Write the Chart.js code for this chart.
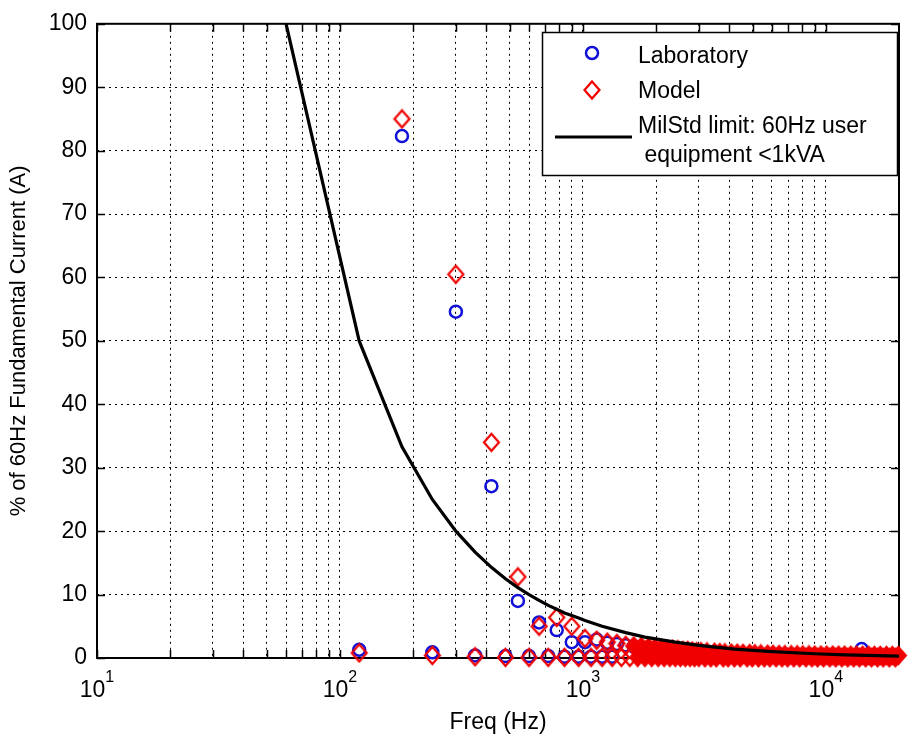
<!DOCTYPE html>
<html>
<head>
<meta charset="utf-8">
<title>Harmonic currents vs MilStd limit</title>
<script src="https://cdn.jsdelivr.net/npm/chart.js@4.4.0/dist/chart.umd.min.js"></script>
<style>
  html, body { margin: 0; padding: 0; background: #fff; }
  #chart { display: block; }
</style>
</head>
<body>
<canvas id="chart" width="908" height="739"></canvas>
<script>
// Values: harmonic frequency (Hz) and % of 60Hz fundamental
var labFreq = [120, 180, 240, 300, 360, 420, 480, 540, 600, 660, 720, 780, 840, 900, 960,
               1020, 1080, 1140, 1200, 1260, 1320, 1380, 1500, 1620, 1740, 1860, 1980, 14040];
var labPct  = [1.3, 82.3, 0.9, 54.6, 0.4, 27.1, 0.3, 9.0, 0.3, 5.6, 0.3, 4.4, 0.2, 2.5, 0.2,
               2.5, 0.2, 2.9, 0.2, 2.4, 0.2, 2.2, 2.0, 1.8, 1.6, 1.5, 1.3, 1.4];

var modelFreq = [120, 180, 240, 300, 360, 420, 480, 540, 600, 660, 720, 780, 840, 900, 960,
                 1020, 1080, 1140, 1200, 1260, 1320, 1380, 1440,
                 1500, 1560, 1620, 1680, 1740, 1800, 1860, 1920, 1980, 2040, 2100, 2160, 2220,
                 2280, 2340, 2400, 2460, 2520, 2580, 2640, 2700, 2760, 2820, 2880, 2940, 3000,
                 3060, 3180, 3240, 3360, 3480, 3540, 3660, 3780, 3840, 3960, 4080, 4200, 4320,
                 4440, 4560, 4740, 4860, 4980, 5100, 5280, 5400, 5580, 5760, 5880, 6060, 6240,
                 6420, 6600, 6780, 6960, 7200, 7380, 7620, 7800, 8040, 8280, 8520, 8760, 9000,
                 9240, 9540, 9780, 10080, 10380, 10680, 10980, 11280, 11640, 11940, 12300, 12660,
                 13020, 13380, 13740, 14160, 14580, 15000, 15420, 15840, 16320, 16740, 17220,
                 17760, 18240, 18780, 19320, 19860];
var modelPct  = [0.8, 85.0, 0.4, 60.5, 0.2, 34.0, 0.1, 12.8, 0.1, 5.0, 0.1, 6.4, 0.1, 5.0, 0.1,
                 3.1, 0.1, 2.8, 0.1, 2.5, 0.1, 2.3, 0.1,
                 2.0, 0.1, 1.9, 0.1, 1.8, 0.1, 1.7, 0.1, 1.6, 0.1, 1.5, 0.1, 1.4,
                 0.1, 1.4, 0.1, 1.3, 0.1, 1.2, 0.1, 1.2, 0.1, 1.1, 0.1, 1.0, 0.1,
                 1.0, 0.05, 0.95, 0.05, 0.9, 0.05, 0.85, 0.05, 0.8, 0.05, 0.78, 0.05, 0.75,
                 0.05, 0.72, 0.05, 0.7, 0.05, 0.67, 0.05, 0.64, 0.05, 0.6, 0.05, 0.58, 0.05,
                 0.55, 0.05, 0.52, 0.05, 0.5, 0.05, 0.5, 0.05, 0.48, 0.05, 0.48, 0.05, 0.46,
                 0.05, 0.46, 0.05, 0.45, 0.05, 0.45, 0.05, 0.44, 0.05, 0.44, 0.05, 0.43,
                 0.05, 0.43, 0.05, 0.42, 0.05, 0.42, 0.05, 0.41, 0.05, 0.41, 0.05,
                 0.4, 0.05, 0.4, 0.05, 0.4];

var limitFreq = [60, 120, 180, 240, 300, 360, 420, 480, 540, 600, 660, 720, 780, 840, 900, 960,
                 1020, 1200, 1500, 1800, 2400, 3000, 4200, 6000, 9000, 12000, 20000];
var limitPct  = [100, 50, 33.3, 25, 20, 16.7, 14.3, 12.5, 11.1, 10, 9.1, 8.3, 7.7, 7.1, 6.7, 6.3,
                 5.9, 5.0, 4.0, 3.3, 2.5, 2.0, 1.4, 1.0, 0.67, 0.5, 0.3];

var xGridTicks = [10, 20, 30, 40, 50, 60, 70, 80, 90,
                  100, 200, 300, 400, 500, 600, 700, 800, 900,
                  1000, 2000, 3000, 4000, 5000, 6000, 7000, 8000, 9000, 10000];
var xLabelTicks = [10, 100, 1000, 10000];
var xLabelExp = ['1', '2', '3', '4'];
var yTicks = [0, 10, 20, 30, 40, 50, 60, 70, 80, 90, 100];

var FONT = '"Liberation Sans", Arial, Helvetica, sans-serif';
var BLUE = '#1010d8';
var RED = '#f00000';
// above this frequency the model markers overlap into a solid band
var SOLID_FROM_HZ = 1620;

function toPoints(xs, ys) {
    return xs.map(function(x, i) { return {x: x, y: ys[i]}; });
}

// taller-than-wide diamond like the MATLAB 'd' marker
function diamondPath(ctx, cx, cy, hw, hh) {
    ctx.beginPath();
    ctx.moveTo(cx, cy - hh);
    ctx.lineTo(cx + hw, cy);
    ctx.lineTo(cx, cy + hh);
    ctx.lineTo(cx - hw, cy);
    ctx.closePath();
}
function makeDiamond(filled) {
    var c = document.createElement('canvas');
    c.width = 19;
    c.height = 21;
    var g = c.getContext('2d');
    g.strokeStyle = RED;
    g.fillStyle = RED;
    g.lineWidth = 2.2;
    diamondPath(g, 9.5, 10.5, 7.5, 8.5);
    if (filled) g.fill();
    g.stroke();
    return c;
}
var diamond = makeDiamond(false);
var diamondSolid = makeDiamond(true);

var frameAndLegend = {
    id: 'frameAndLegend',
    beforeDatasetsDraw: function(chart) {
        var ctx = chart.ctx, a = chart.chartArea;
        var xs = chart.scales.x, ys = chart.scales.y;
        ctx.save();
        ctx.strokeStyle = '#000';
        ctx.lineWidth = 1.5;
        ctx.beginPath();
        xGridTicks.forEach(function(v) {
            var px = Math.round(xs.getPixelForValue(v)) + 0.5;
            ctx.moveTo(px, a.bottom); ctx.lineTo(px, a.bottom - 8);
            ctx.moveTo(px, a.top); ctx.lineTo(px, a.top + 8);
        });
        yTicks.forEach(function(v) {
            var py = Math.round(ys.getPixelForValue(v)) + 0.5;
            ctx.moveTo(a.left, py); ctx.lineTo(a.left + 8, py);
            ctx.moveTo(a.right, py); ctx.lineTo(a.right - 8, py);
        });
        ctx.stroke();
        ctx.lineWidth = 2;
        ctx.strokeRect(a.left, a.top, a.right - a.left, a.bottom - a.top);
        ctx.restore();
    },
    afterDraw: function(chart) {
        var ctx = chart.ctx, xs = chart.scales.x;
        ctx.save();
        ctx.fillStyle = '#000';
        ctx.textBaseline = 'alphabetic';

        // x tick labels 10^n
        xLabelTicks.forEach(function(v, i) {
            var px = xs.getPixelForValue(v);
            ctx.font = '23px ' + FONT;
            var w1 = ctx.measureText('10').width;
            ctx.font = '16px ' + FONT;
            var w2 = ctx.measureText(xLabelExp[i]).width;
            var x0 = px - (w1 + w2) / 2;
            ctx.font = '23px ' + FONT;
            ctx.fillText('10', x0, 697);
            ctx.font = '16px ' + FONT;
            ctx.fillText(xLabelExp[i], x0 + w1, 682);
        });

        // legend box
        var lx = 542, ly = 32, lw = 355, lh = 143;
        ctx.fillStyle = '#fff';
        ctx.fillRect(lx, ly, lw, lh);
        ctx.strokeStyle = '#000';
        ctx.lineWidth = 1.5;
        ctx.strokeRect(lx + 0.5, ly + 0.5, lw, lh);

        ctx.strokeStyle = BLUE;
        ctx.lineWidth = 2.5;
        ctx.beginPath();
        ctx.arc(592, 53, 6, 0, Math.PI * 2);
        ctx.stroke();

        ctx.strokeStyle = RED;
        ctx.lineWidth = 2.2;
        diamondPath(ctx, 592, 90, 7.5, 8.5);
        ctx.stroke();

        ctx.strokeStyle = '#000';
        ctx.lineWidth = 3;
        ctx.beginPath();
        ctx.moveTo(555, 137);
        ctx.lineTo(632, 137);
        ctx.stroke();

        ctx.fillStyle = '#000';
        ctx.font = '23px ' + FONT;
        ctx.fillText('Laboratory', 638, 63);
        ctx.fillText('Model', 638, 98);
        ctx.fillText('MilStd limit: 60Hz user', 638, 133);
        ctx.fillText(' equipment <1kVA', 638, 162);
        ctx.restore();
    }
};

var ctx = document.getElementById('chart').getContext('2d');
var chart = new Chart(ctx, {
    type: 'scatter',
    data: {
        datasets: [{
            label: 'Laboratory',
            data: toPoints(labFreq, labPct),
            pointStyle: 'circle',
            pointRadius: 6,
            pointBorderWidth: 2.5,
            pointBorderColor: BLUE,
            pointBackgroundColor: 'rgba(0,0,0,0)',
            clip: false,
            order: 3
        }, {
            label: 'Model',
            data: toPoints(modelFreq, modelPct),
            pointStyle: function(c) {
                return modelFreq[c.dataIndex] >= SOLID_FROM_HZ ? diamondSolid : diamond;
            },
            pointRadius: 8,
            clip: false,
            order: 2
        }, {
            label: 'MilStd limit: 60Hz user equipment <1kVA',
            type: 'line',
            data: toPoints(limitFreq, limitPct),
            showLine: true,
            borderColor: '#000',
            borderWidth: 3.2,
            pointRadius: 0,
            tension: 0,
            fill: false,
            clip: false,
            order: 1
        }]
    },
    options: {
        responsive: false,
        animation: false,
        events: [],
        layout: {
            padding: { top: 19, right: 2, left: 0, bottom: 0 }
        },
        plugins: {
            legend: { display: false },
            tooltip: { enabled: false }
        },
        scales: {
            x: {
                type: 'logarithmic',
                min: 10,
                max: 20000,
                afterBuildTicks: function(scale) {
                    scale.ticks = xGridTicks.map(function(v) { return {value: v}; });
                },
                afterFit: function(scale) { scale.height = 81; },
                ticks: { display: false },
                grid: {
                    color: '#000',
                    lineWidth: 1,
                    drawTicks: false
                },
                border: { display: false, dash: [2, 4] },
                title: {
                    display: true,
                    text: 'Freq (Hz)',
                    color: '#000',
                    font: { family: FONT, size: 23 },
                    padding: { top: 0, bottom: 3 }
                }
            },
            y: {
                min: 0,
                max: 100,
                afterBuildTicks: function(scale) {
                    scale.ticks = yTicks.map(function(v) { return {value: v}; });
                },
                afterFit: function(scale) { scale.width = 97; },
                ticks: {
                    color: '#000',
                    padding: 10,
                    font: { family: FONT, size: 23 }
                },
                grid: {
                    color: '#000',
                    lineWidth: 1,
                    drawTicks: false
                },
                border: { display: false, dash: [2, 4] },
                title: {
                    display: true,
                    text: '% of 60Hz Fundamental Current (A)',
                    color: '#000',
                    font: { family: FONT, size: 22 },
                    padding: { top: 6, bottom: 0 }
                }
            }
        }
    },
    plugins: [frameAndLegend]
});
</script>
</body>
</html>
